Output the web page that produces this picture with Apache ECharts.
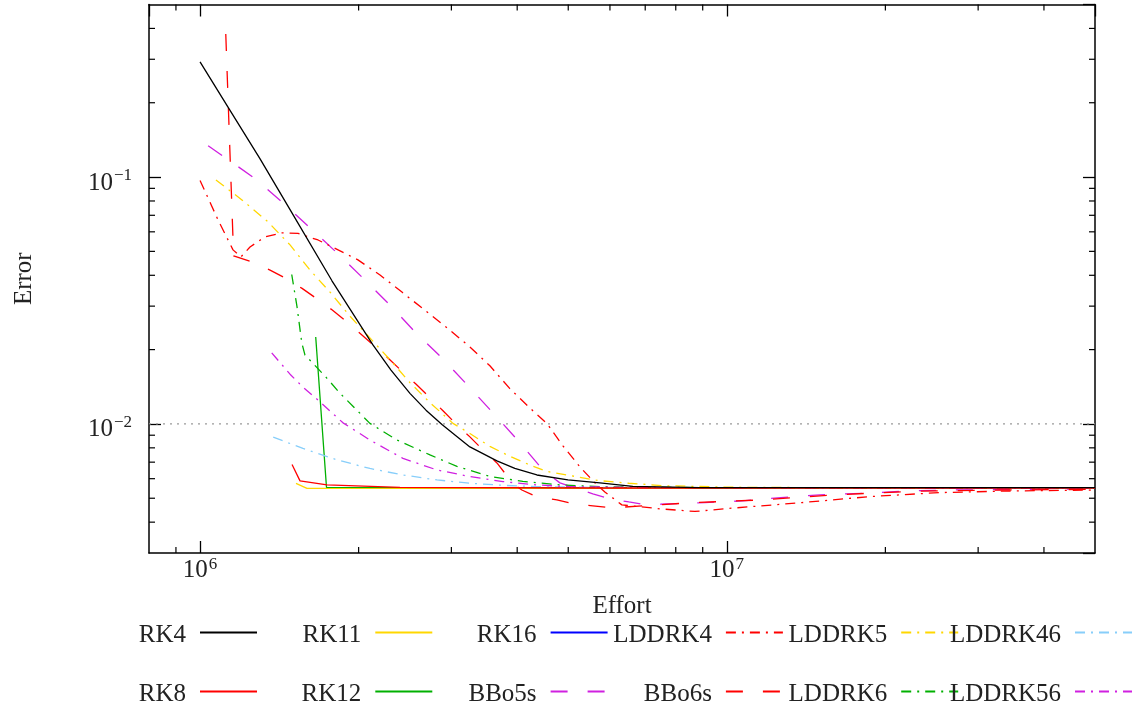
<!DOCTYPE html>
<html>
<head>
<meta charset="utf-8">
<title>Error vs effort</title>
<script src="https://cdn.jsdelivr.net/npm/echarts@6/dist/echarts.min.js"></script>
<style>
  html, body { margin: 0; padding: 0; background: #ffffff; }
  #chart { width: 1133px; height: 711px; }
</style>
</head>
<body>
<div id="chart"></div>
<script>
// ---- data: [effort, error] samples per integrator ----
const rk4 = [[1.0e6,0.293],[1.13e6,0.192],[1.30e6,0.1184],[1.508e6,0.0693],[1.78e6,0.0380],[2.129e6,0.0209],[2.304e6,0.01652],[2.503e6,0.01330],[2.685e6,0.01137],[2.879e6,0.00994],[3.060e6,0.00896],[3.253e6,0.00807],[3.661e6,0.00708],[3.959e6,0.00660],[4.36e6,0.00621],[4.993e6,0.00593],[5.741e6,0.00577],[6.63e6,0.00558],[8.887e6,0.00552],[5e7,0.00552]];
const rk8 = [[1.495e6,0.00685],[1.548e6,0.00588],[1.742e6,0.00566],[2.396e6,0.00553],[5.741e6,0.00550],[5e7,0.00550]];
const rk11 = [[1.521e6,0.00574],[1.596e6,0.00548],[5e7,0.00548]];
const rk12 = [[1.658e6,0.0225],[1.738e6,0.00553],[5e7,0.00550]];
const rk16 = [];
const bbo5s = [[1.036e6,0.134],[1.26e6,0.100],[1.431e6,0.0793],[1.61e6,0.0628],[1.82e6,0.0493],[2.038e6,0.0390],[2.294e6,0.0303],[2.558e6,0.0236],[2.879e6,0.0185],[3.225e6,0.0143],[3.597e6,0.0111],[4.012e6,0.00857],[4.476e6,0.00651],[4.821e6,0.00577],[5.103e6,0.00553],[5.568e6,0.00521],[5.945e6,0.00500],[6.516e6,0.00483],[7.05e6,0.00470],[7.694e6,0.00474],[9.083e6,0.00480],[1.072e7,0.00488],[1.266e7,0.00503],[1.501e7,0.00516],[1.876e7,0.00525],[2.215e7,0.00535],[2.626e7,0.00540],[3.384e7,0.00542],[5e7,0.00545]];
const lddrk4 = [[1.0e6,0.0969],[1.082e6,0.0670],[1.155e6,0.0507],[1.196e6,0.0475],[1.244e6,0.0521],[1.328e6,0.0572],[1.431e6,0.0594],[1.535e6,0.0591],[1.675e6,0.0556],[1.828e6,0.0507],[1.994e6,0.0462],[2.196e6,0.0401],[2.417e6,0.0342],[2.638e6,0.0295],[2.93e6,0.0247],[3.253e6,0.0205],[3.55e6,0.0172],[3.874e6,0.0139],[4.284e6,0.0113],[4.555e6,0.01005],[4.885e6,0.00815],[5.261e6,0.00670],[5.617e6,0.00577],[5.868e6,0.00530],[6.32e6,0.00470],[7.462e6,0.00453],[8.695e6,0.00442],[1.026e7,0.00456],[1.388e7,0.00480],[1.876e7,0.00508],[2.536e7,0.00527],[3.443e7,0.00535],[5e7,0.00540]];
const bbo6s = [[1.119e6,0.380],[1.158e6,0.0479],[1.255e6,0.0453],[1.358e6,0.0420],[1.45e6,0.0390],[1.562e6,0.0354],[1.667e6,0.0321],[1.78e6,0.0290],[1.901e6,0.0259],[2.029e6,0.0229],[2.12e6,0.0211],[2.274e6,0.0185],[2.428e6,0.0162],[2.569e6,0.0145],[2.72e6,0.0129],[2.892e6,0.0113],[3.074e6,0.00991],[3.253e6,0.00886],[3.443e6,0.00785],[3.661e6,0.00695],[3.84e6,0.00610],[3.959e6,0.00566],[4.083e6,0.00540],[4.36e6,0.00506],[4.758e6,0.00492],[5.125e6,0.00474],[5.568e6,0.00466],[6.05e6,0.00457],[7.143e6,0.00468],[8.507e6,0.00479],[1.155e7,0.00492],[1.602e7,0.00516],[2.225e7,0.00533],[3.297e7,0.00540],[5e7,0.00543]];
const lddrk5 = [[1.072e6,0.0973],[1.201e6,0.0808],[1.346e6,0.0658],[1.482e6,0.0531],[1.617e6,0.0420],[1.765e6,0.0342],[1.926e6,0.0273],[2.101e6,0.0223],[2.294e6,0.0182],[2.503e6,0.0147],[2.732e6,0.0122],[3.021e6,0.01005],[3.253e6,0.00915],[3.55e6,0.00811],[3.874e6,0.00739],[4.228e6,0.00682],[4.555e6,0.00642],[5.036e6,0.00618],[5.691e6,0.00590],[6.516e6,0.00575],[7.594e6,0.00562],[1.026e7,0.00554],[1.712e7,0.00551],[5e7,0.00549]];
const lddrk6 = [[1.493e6,0.0403],[1.528e6,0.0298],[1.560e6,0.0213],[1.582e6,0.0190],[1.638e6,0.0176],[1.742e6,0.0153],[1.844e6,0.0133],[1.951e6,0.0118],[2.101e6,0.01005],[2.365e6,0.00861],[2.732e6,0.00749],[3.074e6,0.00673],[3.55e6,0.00613],[4.1e6,0.00585],[4.821e6,0.00566],[5.741e6,0.00557],[8.887e6,0.00552],[5e7,0.00549]];
const lddrk46 = [[1.377e6,0.00884],[1.568e6,0.00796],[1.82e6,0.00715],[2.101e6,0.00660],[2.428e6,0.00621],[2.817e6,0.00593],[3.253e6,0.00575],[3.758e6,0.00564],[4.36e6,0.00557],[5.741e6,0.00553],[5e7,0.00549]];
const lddrk56 = [[1.368e6,0.0194],[1.482e6,0.0159],[1.568e6,0.0141],[1.689e6,0.0123],[1.868e6,0.0101],[2.101e6,0.00861],[2.428e6,0.00725],[2.817e6,0.00651],[3.253e6,0.00612],[3.758e6,0.00584],[4.36e6,0.00566],[5.036e6,0.00557],[7.143e6,0.00552],[5e7,0.00549]];

// axis ranges and minor tick positions
const effortRange = [8e5, 5e7];
const errorRange = [0.003, 0.5];
const effortMinorTicks = [9e5, 2e6, 3e6, 4e6, 5e6, 6e6, 7e6, 8e6, 9e6, 2e7, 3e7, 4e7];
const errorMinorTicks = [0.004, 0.005, 0.006, 0.007, 0.008, 0.009, 0.02, 0.03, 0.04, 0.05, 0.06, 0.07, 0.08, 0.09, 0.2, 0.3, 0.4];
const errorGridLevels = [0.01];

// ---- styling ----
const FONT = 'Liberation Serif';
const TEXT = '#222222';
const SOLID = 'solid';
const DASH = [17, 20];
const DASHDOT = [10, 6, 2, 6];

const seriesDefs = [
  { name: 'RK4',     data: rk4,     color: '#000000', type: SOLID, z: 4 },
  { name: 'RK8',     data: rk8,     color: '#ff0000', type: SOLID, z: 3 },
  { name: 'RK11',    data: rk11,    color: '#ffd700', type: SOLID },
  { name: 'RK12',    data: rk12,    color: '#00b000', type: SOLID },
  { name: 'RK16',    data: rk16,    color: '#0000ff', type: SOLID },
  { name: 'BBo5s',   data: bbo5s,   color: '#d020e0', type: DASH },
  { name: 'LDDRK4',  data: lddrk4,  color: '#ff0000', type: DASHDOT },
  { name: 'BBo6s',   data: bbo6s,   color: '#ff0000', type: DASH },
  { name: 'LDDRK5',  data: lddrk5,  color: '#ffd700', type: DASHDOT },
  { name: 'LDDRK6',  data: lddrk6,  color: '#00b000', type: DASHDOT },
  { name: 'LDDRK46', data: lddrk46, color: '#87cefa', type: DASHDOT },
  { name: 'LDDRK56', data: lddrk56, color: '#d020e0', type: DASHDOT }
];

// legend grid: columns of [top row, bottom row]
const legendColumns = [
  ['RK4', 'RK8'], ['RK11', 'RK12'], ['RK16', 'BBo5s'],
  ['LDDRK4', 'BBo6s'], ['LDDRK5', 'LDDRK6'], ['LDDRK46', 'LDDRK56']
];

function powerLabel(v) {
  const e = Math.round(Math.log10(v));
  if (Math.abs(v / Math.pow(10, e) - 1) > 1e-6) return '';
  const exp = e < 0 ? '\u2212' + (-e) : String(e);
  return '{b|10}{s|' + exp + '}';
}

// rich tokens are centred on the line; padding shifts the glyphs up or down
const xRich = {
  b: { fontFamily: FONT, fontSize: 25, lineHeight: 25, color: TEXT },
  s: { fontFamily: FONT, fontSize: 17, lineHeight: 17, color: TEXT, padding: [0, 0, 12, 1] }
};
const yRich = {
  b: { fontFamily: FONT, fontSize: 25, lineHeight: 25, color: TEXT, padding: [12, 0, 0, 0] },
  s: { fontFamily: FONT, fontSize: 17, lineHeight: 17, color: TEXT, padding: [0, 0, 3, 1] }
};

const frameLine = { show: true, onZero: false, lineStyle: { color: '#000', width: 1.5 } };
const majorTick = { show: true, inside: true, length: 12, lineStyle: { color: '#000', width: 1.3 } };

const legends = [];
legendColumns.forEach((pair, i) => {
  const sampleEnd = 258 + 175.3 * i;
  const right = Math.max(0, 1133 - sampleEnd);
  pair.forEach((name, r) => {
    legends.push({
      data: [name],
      orient: 'horizontal',
      align: 'right',
      right: right,
      top: r === 0 ? 617 : 676,
      padding: 0,
      itemWidth: 57,
      itemHeight: 14,
      selectedMode: false,
      itemStyle: { opacity: 0 },
      formatter: n => '{t|' + n + '}',
      textStyle: {
        fontFamily: FONT, fontSize: 25, color: TEXT,
        rich: { t: { fontFamily: FONT, fontSize: 25, lineHeight: 25, color: TEXT, padding: [6, 9, 0, 0] } }
      }
    });
  });
});

const lineSeries = seriesDefs.map(d => ({
  type: 'line',
  name: d.name,
  data: d.data,
  xAxisIndex: 0,
  yAxisIndex: 0,
  symbol: 'none',
  showSymbol: false,
  clip: true,
  z: d.z || 2,
  color: d.color,
  lineStyle: { color: d.color, width: 1.3, type: d.type },
  emphasis: { disabled: true },
  animation: false
}));

// minor ticks on the bottom and top frame edges
const effortMinorSeries = {
  type: 'custom',
  name: 'effort-minor',
  silent: true,
  z: 6,
  data: effortMinorTicks.map(v => [v, errorRange[0]]),
  renderItem(params, api) {
    const cs = params.coordSys;
    const x = api.coord([api.value(0), errorRange[0]])[0];
    const bottom = cs.y + cs.height, top = cs.y;
    const st = { stroke: '#000', lineWidth: 1.2 };
    return { type: 'group', children: [
      { type: 'line', shape: { x1: x, y1: bottom, x2: x, y2: bottom - 6 }, style: st },
      { type: 'line', shape: { x1: x, y1: top, x2: x, y2: top + 6 }, style: st }
    ] };
  },
  animation: false
};

// minor ticks on the left and right frame edges
const errorMinorSeries = {
  type: 'custom',
  name: 'error-minor',
  silent: true,
  z: 6,
  data: errorMinorTicks.map(v => [effortRange[0], v]),
  renderItem(params, api) {
    const cs = params.coordSys;
    const y = api.coord([effortRange[0], api.value(1)])[1];
    const left = cs.x, right = cs.x + cs.width;
    const st = { stroke: '#000', lineWidth: 1.2 };
    return { type: 'group', children: [
      { type: 'line', shape: { x1: left, y1: y, x2: left + 6, y2: y }, style: st },
      { type: 'line', shape: { x1: right, y1: y, x2: right - 6, y2: y }, style: st }
    ] };
  },
  animation: false
};

// dotted horizontal reference line(s)
const gridLineSeries = {
  type: 'custom',
  name: 'error-grid',
  silent: true,
  z: 1,
  data: errorGridLevels.map(v => [effortRange[0], v]),
  renderItem(params, api) {
    const cs = params.coordSys;
    const y = api.coord([effortRange[0], api.value(1)])[1];
    return { type: 'line', shape: { x1: cs.x, y1: y, x2: cs.x + cs.width, y2: y },
      style: { stroke: '#9a9a9a', lineWidth: 1.3, lineDash: [2, 5] } };
  },
  animation: false
};

const chart = echarts.init(document.getElementById('chart'), null, { renderer: 'canvas' });
chart.setOption({
  backgroundColor: '#ffffff',
  animation: false,
  grid: { left: 149, top: 4.5, width: 946, height: 548.5, outerBoundsMode: 'none', containLabel: false },
  legend: legends,
  xAxis: [
    {
      type: 'log', logBase: 10, min: effortRange[0], max: effortRange[1], position: 'bottom',
      name: 'Effort', nameLocation: 'middle', nameGap: 41,
      nameTextStyle: { fontFamily: FONT, fontSize: 25, color: TEXT },
      axisLine: frameLine, axisTick: majorTick,
      axisLabel: { formatter: powerLabel, rich: xRich, margin: 5, showMinLabel: false, showMaxLabel: false, hideOverlap: false },
      splitLine: { show: false }, minorTick: { show: false }, minorSplitLine: { show: false }
    },
    {
      type: 'log', logBase: 10, min: effortRange[0], max: effortRange[1], position: 'top',
      axisLine: frameLine, axisTick: majorTick,
      axisLabel: { show: false }, splitLine: { show: false }
    }
  ],
  yAxis: [
    {
      type: 'log', logBase: 10, min: errorRange[0], max: errorRange[1], position: 'left',
      name: 'Error', nameLocation: 'middle', nameGap: 112, nameRotate: 90,
      nameTextStyle: { fontFamily: FONT, fontSize: 25, color: TEXT },
      axisLine: frameLine, axisTick: majorTick,
      axisLabel: { formatter: powerLabel, rich: yRich, margin: 17, showMinLabel: false, showMaxLabel: false, hideOverlap: false },
      splitLine: { show: false }, minorTick: { show: false }, minorSplitLine: { show: false }
    },
    {
      type: 'log', logBase: 10, min: errorRange[0], max: errorRange[1], position: 'right',
      axisLine: frameLine, axisTick: majorTick,
      axisLabel: { show: false }, splitLine: { show: false }
    }
  ],
  series: [gridLineSeries].concat(lineSeries, [effortMinorSeries, errorMinorSeries])
});
</script>
</body>
</html>
